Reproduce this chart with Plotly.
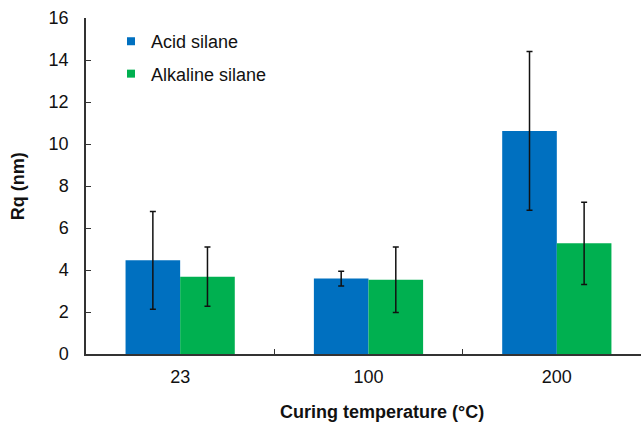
import plotly.graph_objects as go

# Surface roughness by curing temperature
categories = ["23", "100", "200"]
series_names = ["Acid silane", "Alkaline silane"]
acid_mean = [4.46, 3.59, 10.62]
acid_err = [2.33, 0.35, 3.78]
alkaline_mean = [3.68, 3.54, 5.27]
alkaline_err = [1.41, 1.56, 1.96]
y_ticks = [0, 2, 4, 6, 8, 10, 12, 14, 16]

colors = ["#0070C0", "#00B050"]
FONT = "Liberation Sans, Arial, sans-serif"

fig = go.Figure()
for name, mean, err, col in zip(series_names, [acid_mean, alkaline_mean],
                                [acid_err, alkaline_err], colors):
    fig.add_trace(go.Bar(
        x=categories, y=mean, name=name, marker_color=col,
        marker_line_width=0, showlegend=False, legendgroup=name,
        error_y=dict(type="data", array=err, visible=True,
                     color="#111111", thickness=1.5, width=3),
    ))
    # compact square swatch for the legend
    fig.add_trace(go.Scatter(
        x=[None], y=[None], mode="markers", name=name, legendgroup=name,
        marker=dict(symbol="square", size=8, color=col),
    ))

fig.update_layout(
    width=641, height=422,
    margin=dict(l=86, r=0, t=18, b=68),
    paper_bgcolor="white", plot_bgcolor="white",
    barmode="group", bargap=0.42, bargroupgap=0,
    font=dict(family=FONT, size=18, color="#111111"),
    legend=dict(x=0.045, y=0.985, xanchor="left", yanchor="top",
                bgcolor="rgba(0,0,0,0)", tracegroupgap=6,
                font=dict(size=18, color="#111111"), itemwidth=30),
    xaxis=dict(range=[-0.5, 2.447], showline=True, linecolor="#333333",
               linewidth=1.5, ticks="inside", tickson="boundaries",
               ticklen=5, tickcolor="#333333", tickwidth=1,
               showgrid=False, zeroline=False, ticklabelstandoff=6,
               tickfont=dict(size=18)),
    yaxis=dict(range=[0, 16], tickvals=y_ticks, showline=True,
               linecolor="#333333", linewidth=1.5, ticks="inside",
               ticklen=5, tickcolor="#333333", tickwidth=1,
               showgrid=False, zeroline=False, ticklabelstandoff=12,
               tickfont=dict(size=18)),
    annotations=[
        dict(text="<b>Curing temperature (°C)</b>", xref="paper", yref="paper",
             x=0.533, y=-0.172, xanchor="center", yanchor="middle",
             showarrow=False, font=dict(size=18)),
        dict(text="<b>Rq (nm)</b>", xref="paper", yref="paper",
             x=-0.122, y=0.5, xanchor="center", yanchor="middle",
             textangle=-90, showarrow=False, font=dict(size=18)),
    ],
)

fig.write_html("out.html")
